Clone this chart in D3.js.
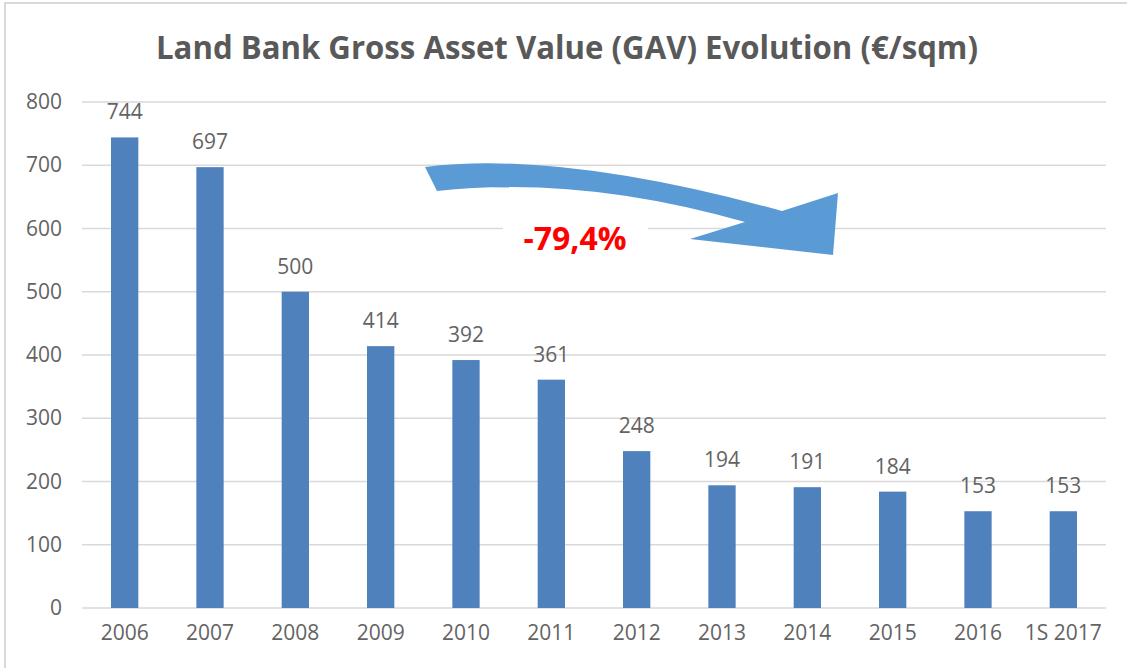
<!DOCTYPE html>
<html><head><meta charset="utf-8">
<script src="https://cdn.jsdelivr.net/npm/d3@7"></script>
<style>body{margin:0;background:#fff;}svg{display:block;}</style>
</head><body>
<svg id="chart" width="1127" height="668"></svg>
<script>
const categories = ["2006","2007","2008","2009","2010","2011","2012","2013","2014","2015","2016","1S 2017"];
const values = [744,697,500,414,392,361,248,194,191,184,153,153];
const yTicks = [0,100,200,300,400,500,600,700,800];
const title = "Land Bank Gross Asset Value (GAV) Evolution (€/sqm)";
const changeLabel = "-79,4%";

const svg = d3.select("#chart");
const W = 1127, H = 668;
const m = {left:82, right:21, top:102, bottom:60};
const x = d3.scaleBand().domain(categories).range([m.left, W - m.right]).paddingInner(0.68).paddingOuter(0.34);
const y = d3.scaleLinear().domain([0,800]).range([608, 102]);
const font = "'Open Sans', sans-serif";
const grey = "#636363";

// border
svg.append("rect").attr("x",5).attr("y",3).attr("width",1130).attr("height",680)
  .attr("fill","#fff").attr("stroke","#D9D9D9").attr("stroke-width",2);

// title
svg.append("text").attr("x",567).attr("y",59).attr("text-anchor","middle")
  .attr("font-family",font).attr("font-weight",700).attr("font-size",32)
  .attr("textLength",822).attr("lengthAdjust","spacingAndGlyphs")
  .attr("fill","#595959").text(title);

// gridlines
svg.append("g").selectAll("line").data(yTicks).join("line")
  .attr("x1",m.left).attr("x2",W-m.right)
  .attr("y1",d=>y(d)).attr("y2",d=>y(d))
  .attr("stroke","#D9D9D9").attr("stroke-width",1.5);

// y axis labels
const yAxis = d3.axisLeft(y).tickValues(yTicks).tickSize(0).tickPadding(0);
const gy = svg.append("g").attr("transform",`translate(62,0)`).call(yAxis);
gy.select(".domain").remove();
gy.selectAll("text").attr("font-family",font).attr("font-size",21).attr("fill",grey);

// x axis labels
const xAxis = d3.axisBottom(x).tickSize(0).tickPadding(0);
const gx = svg.append("g").attr("transform",`translate(0,625)`).call(xAxis);
gx.select(".domain").remove();
gx.selectAll("text").attr("font-family",font).attr("font-size",21).attr("fill",grey);

// bars
svg.append("g").selectAll("rect").data(values).join("rect")
  .attr("x",(d,i)=>x(categories[i])).attr("width",x.bandwidth())
  .attr("y",d=>y(d)).attr("height",d=>y(0)-y(d))
  .attr("fill","#4F81BD");

// value labels
svg.append("g").selectAll("text").data(values).join("text")
  .attr("x",(d,i)=>x(categories[i])+x.bandwidth()/2).attr("y",d=>y(d)-18)
  .attr("text-anchor","middle").attr("font-family",font).attr("font-size",21)
  .attr("fill",grey).text(d=>d);

// curved arrow
const arrow = "M425,167 Q560,150 782,211 L838,193 L833,255 L690,239 L745,222 Q580,175 437,191 Z";
svg.append("path").attr("d",arrow).attr("fill","#5B9BD5");

// change label with white box
svg.append("rect").attr("x",503).attr("y",220).attr("width",145).attr("height",38).attr("fill","#fff");
svg.append("text").attr("x",575).attr("y",250).attr("text-anchor","middle")
  .attr("font-family",font).attr("font-weight",700).attr("font-size",32)
  .attr("fill","#FF0000").text(changeLabel);
</script>
</body></html>
